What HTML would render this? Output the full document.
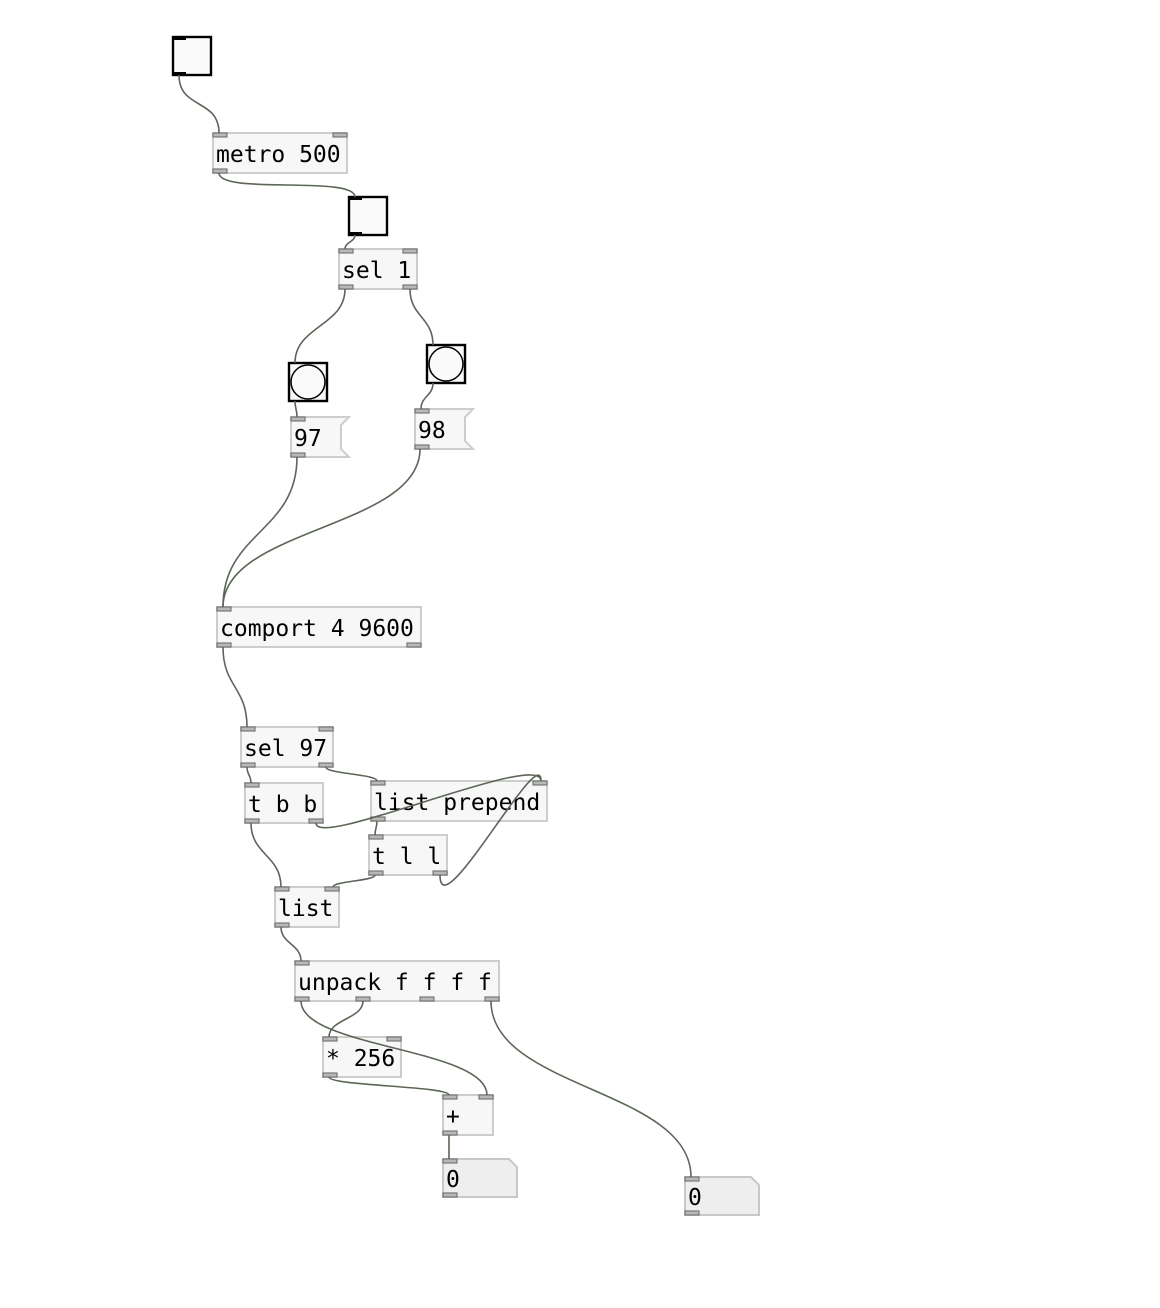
<!DOCTYPE html>
<html><head><meta charset="utf-8"><style>
html,body{margin:0;padding:0;background:#fff;}
svg{display:block}
text{font-family:"DejaVu Sans Mono","Liberation Mono",monospace;font-size:23px;fill:#000}
.b{fill:#f6f7f6;stroke:#cdcdcd;stroke-width:2}
.a{fill:#eeeeee;stroke:#c8c8c8;stroke-width:2}
.io{fill:#b8b8b8;stroke:#777;stroke-width:1.2}
.c{fill:none;stroke:#5b6657;stroke-width:1.6}
.g{fill:#fafafa;stroke:#000;stroke-width:2.4}
</style></head><body>
<svg width="1160" height="1308" viewBox="0 0 1160 1308" xmlns="http://www.w3.org/2000/svg">
<!-- toggles -->
<rect class="g" x="173" y="37" width="38" height="38"/>
<rect x="173" y="36" width="13" height="4" fill="#000"/><rect x="173" y="72" width="13" height="4" fill="#000"/>
<rect class="g" x="349" y="197" width="38" height="38"/>
<rect x="349" y="196" width="13" height="4" fill="#000"/><rect x="349" y="232" width="13" height="4" fill="#000"/>

<!-- bangs -->
<rect class="g" x="289" y="363" width="38" height="38"/><circle cx="308" cy="382" r="17" fill="none" stroke="#000" stroke-width="1.5"/>
<rect class="g" x="427" y="345" width="38" height="38"/><circle cx="446" cy="364" r="17" fill="none" stroke="#000" stroke-width="1.5"/>

<!-- objects -->
<rect class="b" x="213" y="133" width="134" height="40"/><text x="216" y="162">metro 500</text>
<rect class="io" x="213" y="133" width="14" height="4"/><rect class="io" x="333" y="133" width="14" height="4"/><rect class="io" x="213" y="169" width="14" height="4"/>

<rect class="b" x="339" y="249" width="78" height="40"/><text x="342" y="278">sel 1</text>
<rect class="io" x="339" y="249" width="14" height="4"/><rect class="io" x="403" y="249" width="14" height="4"/><rect class="io" x="339" y="285" width="14" height="4"/><rect class="io" x="403" y="285" width="14" height="4"/>

<path class="b" d="M291 417 H349 L341 425 V449 L349 457 H291 Z"/><text x="294" y="446">97</text>
<rect class="io" x="291" y="417" width="14" height="4"/><rect class="io" x="291" y="453" width="14" height="4"/>
<path class="b" d="M415 409 H473 L465 417 V441 L473 449 H415 Z"/><text x="418" y="438">98</text>
<rect class="io" x="415" y="409" width="14" height="4"/><rect class="io" x="415" y="445" width="14" height="4"/>

<rect class="b" x="217" y="607" width="204" height="40"/><text x="220" y="636">comport 4 9600</text>
<rect class="io" x="217" y="607" width="14" height="4"/><rect class="io" x="217" y="643" width="14" height="4"/><rect class="io" x="407" y="643" width="14" height="4"/>

<rect class="b" x="241" y="727" width="92" height="40"/><text x="244" y="756">sel 97</text>
<rect class="io" x="241" y="727" width="14" height="4"/><rect class="io" x="319" y="727" width="14" height="4"/><rect class="io" x="241" y="763" width="14" height="4"/><rect class="io" x="319" y="763" width="14" height="4"/>

<rect class="b" x="245" y="783" width="78" height="40"/><text x="248" y="812">t b b</text>
<rect class="io" x="245" y="783" width="14" height="4"/><rect class="io" x="245" y="819" width="14" height="4"/><rect class="io" x="309" y="819" width="14" height="4"/>

<rect class="b" x="371" y="781" width="176" height="40"/><text x="374" y="810">list prepend</text>
<rect class="io" x="371" y="781" width="14" height="4"/><rect class="io" x="533" y="781" width="14" height="4"/><rect class="io" x="371" y="817" width="14" height="4"/>

<rect class="b" x="369" y="835" width="78" height="40"/><text x="372" y="864">t l l</text>
<rect class="io" x="369" y="835" width="14" height="4"/><rect class="io" x="369" y="871" width="14" height="4"/><rect class="io" x="433" y="871" width="14" height="4"/>

<rect class="b" x="275" y="887" width="64" height="40"/><text x="278" y="916">list</text>
<rect class="io" x="275" y="887" width="14" height="4"/><rect class="io" x="325" y="887" width="14" height="4"/><rect class="io" x="275" y="923" width="14" height="4"/>

<rect class="b" x="295" y="961" width="204" height="40"/><text x="298" y="990">unpack f f f f</text>
<rect class="io" x="295" y="961" width="14" height="4"/><rect class="io" x="295" y="997" width="14" height="4"/><rect class="io" x="356" y="997" width="14" height="4"/><rect class="io" x="420" y="997" width="14" height="4"/><rect class="io" x="485" y="997" width="14" height="4"/>

<rect class="b" x="323" y="1037" width="78" height="40"/><text x="326" y="1066">* 256</text>
<rect class="io" x="323" y="1037" width="14" height="4"/><rect class="io" x="387" y="1037" width="14" height="4"/><rect class="io" x="323" y="1073" width="14" height="4"/>

<rect class="b" x="443" y="1095" width="50" height="40"/><text x="446" y="1124">+</text>
<rect class="io" x="443" y="1095" width="14" height="4"/><rect class="io" x="479" y="1095" width="14" height="4"/><rect class="io" x="443" y="1131" width="14" height="4"/>

<path class="a" d="M443 1159 H509 L517 1167 V1197 H443 Z"/><text x="446" y="1187">0</text>
<rect class="io" x="443" y="1159" width="14" height="4"/><rect class="io" x="443" y="1193" width="14" height="4"/>
<path class="a" d="M685 1177 H751 L759 1185 V1215 H685 Z"/><text x="688" y="1205">0</text>
<rect class="io" x="685" y="1177" width="14" height="4"/><rect class="io" x="685" y="1211" width="14" height="4"/>

<!-- connections (on top) -->
<path class="c" d="M179 75 C179 110 219 98 219 133"/>
<path class="c" d="M219 173 C219 195 355 175 355 197"/>
<path class="c" d="M355 235 C355 242 345 242 345 249"/>
<path class="c" d="M345 289 C345 326 295 326 295 363"/>
<path class="c" d="M410 289 C410 317 433 317 433 345"/>
<path class="c" d="M295 401 C295 409 297 409 297 417"/>
<path class="c" d="M433 383 C433 396 421 396 421 409"/>
<path class="c" d="M297 457 C297 532 223 532 223 607"/>
<path class="c" d="M420 449 C420 528 223 528 223 607"/>
<path class="c" d="M223 647 C223 687 247 687 247 727"/>
<path class="c" d="M247 767 C247 775 251 775 251 783"/>
<path class="c" d="M326 767 C326 774 377 774 377 781"/>
<path class="c" d="M316 823 C316 850 541 750 541 781"/>
<path class="c" d="M251 823 C251 855 281 855 281 887"/>
<path class="c" d="M377 821 C377 828 375 828 375 835"/>
<path class="c" d="M375 875 C375 881 333 881 333 887"/>
<path class="c" d="M440 875 C440 930 541 740 541 781"/>
<path class="c" d="M281 927 C281 944 301 944 301 961"/>
<path class="c" d="M301 1001 C301 1048 487 1048 487 1095"/>
<path class="c" d="M363 1001 C363 1019 329 1019 329 1037"/>
<path class="c" d="M491 1001 C491 1089 691 1089 691 1177"/>
<path class="c" d="M329 1077 C329 1086 449 1086 449 1095"/>
<path class="c" d="M449 1135 L449 1159"/>
</svg>
</body></html>
